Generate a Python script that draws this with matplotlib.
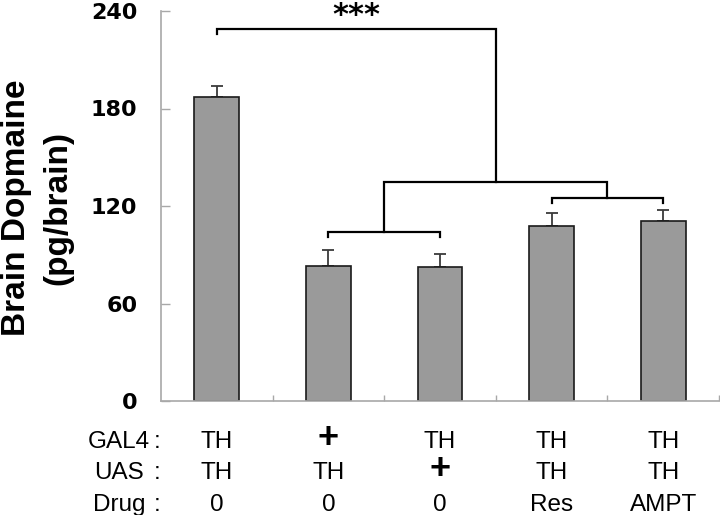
import matplotlib
matplotlib.use("Agg")
import matplotlib.pyplot as plt
import matplotlib.transforms as mtransforms
import numpy as np

plt.rcParams['font.family'] = ['Liberation Sans', 'DejaVu Sans']

# data
groups = ["TH/TH", "+/TH", "TH/+", "TH/TH Res", "TH/TH AMPT"]
dopamine = [187.3, 82.9, 82.3, 107.9, 111.0]
sem = [6.3, 10.0, 8.4, 8.0, 6.8]
yticks = [0, 60, 120, 180, 240]

row_names = ["GAL4", "UAS", "Drug"]
gal4 = ["TH", "+", "TH", "TH", "TH"]
uas = ["TH", "TH", "+", "TH", "TH"]
drug = ["0", "0", "0", "Res", "AMPT"]

fig = plt.figure(figsize=(7.2, 5.15), dpi=100)
ax = fig.add_axes([161 / 720, 114 / 515, 558 / 720, 390 / 515])

x = np.arange(len(dopamine))
ax.bar(x, dopamine, width=0.40, color='#9a9a9a', edgecolor='#1a1a1a', linewidth=1.2, zorder=2)
ax.errorbar(x, dopamine, yerr=[np.zeros(len(sem)), sem], fmt='none',
            ecolor='#3a3a3a', elinewidth=1.3, capsize=4.5, capthick=1.3, zorder=1)

ax.set_xlim(-0.5, 4.5)
ax.set_ylim(0, 240)
ax.set_yticks(yticks)
ax.set_xticks(np.arange(0.5, 5, 1.0))
ax.set_xticklabels([])
for s in ['top', 'right']:
    ax.spines[s].set_visible(False)
for s in ['left', 'bottom']:
    ax.spines[s].set_color('#a8a8a8')
    ax.spines[s].set_linewidth(1.2)
ax.tick_params(axis='y', direction='in', length=6.5, width=1, color='#a8a8a8', pad=17)
ax.tick_params(axis='x', direction='in', length=4.5, width=1, color='#a8a8a8')
for lab in ax.get_yticklabels():
    lab.set_fontfamily('DejaVu Sans')
    lab.set_fontweight('bold')
    lab.set_fontsize(16)

# significance brackets
def bracket(x1, x2, y, d1, d2):
    ax.plot([x1, x1, x2, x2], [y - d1, y, y, y - d2], color='black', lw=1.6,
            solid_joinstyle='miter', clip_on=False, zorder=3)

bracket(1.0, 2.0, 104.2, 3.2, 3.2)
bracket(3.0, 4.0, 125.1, 3.4, 3.4)
bracket(1.5, 3.5, 134.6, 134.6 - 104.2, 134.6 - 125.1)
bracket(0.0, 2.5, 228.7, 3.1, 228.7 - 134.6)
ax.text(1.25, 237.0, "***", ha='center', va='center', fontsize=22, fontweight='bold',
        family='DejaVu Sans', clip_on=False)

fig.text(37 / 720, 1 - 208 / 515, "Brain Dopmaine\n(pg/brain)", rotation=90,
         ha='center', va='center', multialignment='center', fontsize=24,
         fontweight='bold', linespacing=1.45)

# genotype table under the axis
trans = mtransforms.blended_transform_factory(ax.transData, fig.transFigure)
row_y = [1 - 448 / 515, 1 - 479 / 515, 1 - 511 / 515]
for name, yy in zip(row_names, row_y):
    fig.text(119 / 720, yy, name, ha='center', va='baseline', fontsize=17.5)
    fig.text(157 / 720, yy, ":", ha='center', va='baseline', fontsize=17.5)
for row, yy in zip([gal4, uas, drug], row_y):
    for i, t in enumerate(row):
        if t == "+":
            ax.text(i, yy, t, transform=trans, ha='center', va='baseline',
                    fontsize=26, fontweight='bold')
        else:
            ax.text(i, yy, t, transform=trans, ha='center', va='baseline', fontsize=17.5)

fig.savefig("out.png", dpi=100)
